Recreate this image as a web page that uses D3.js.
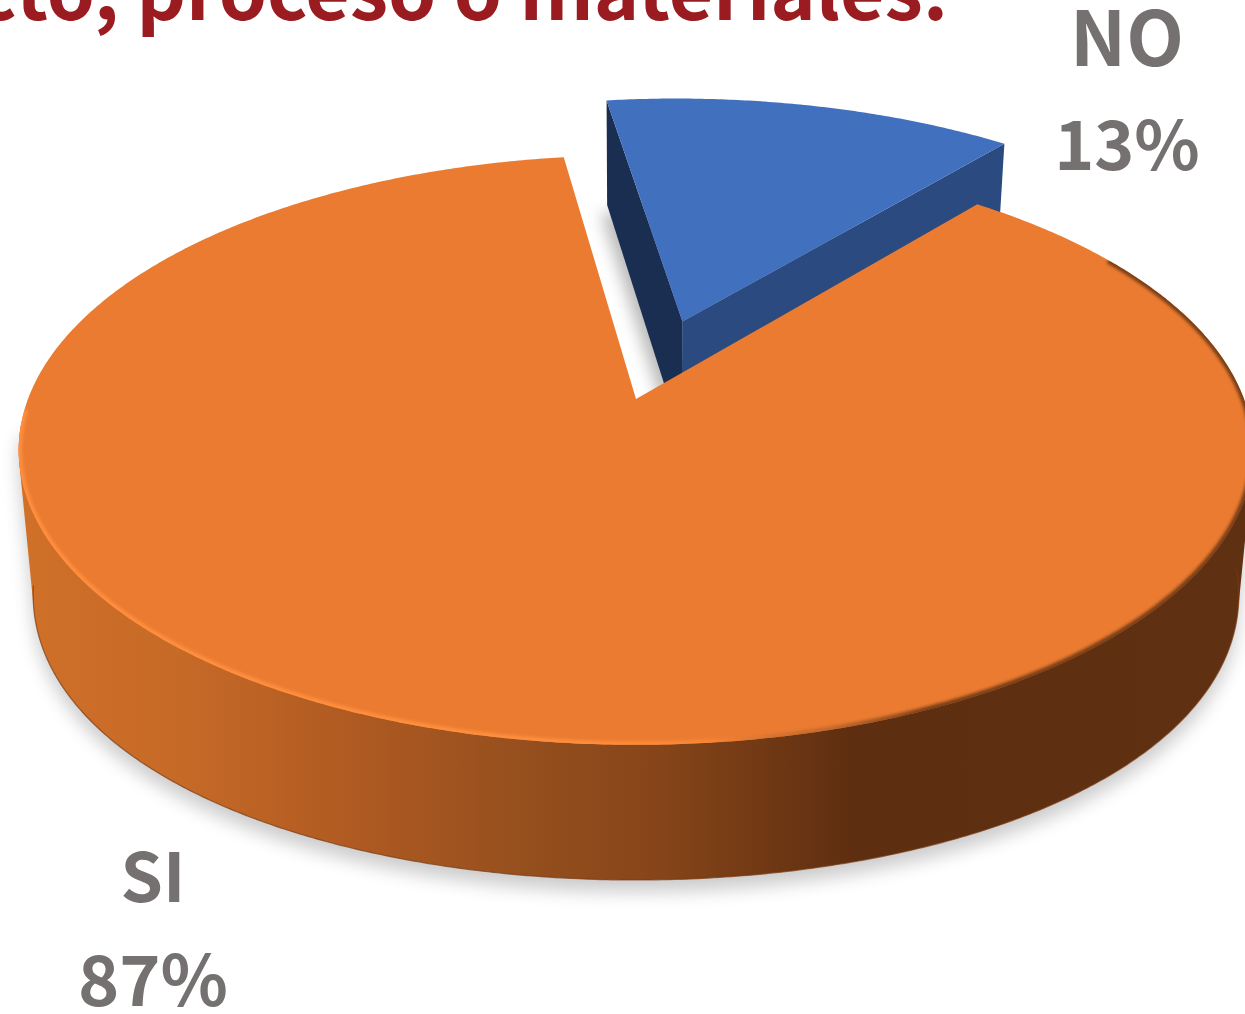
<!DOCTYPE html>
<html><head><meta charset="utf-8">
<style>html,body{margin:0;padding:0;background:#fff;overflow:hidden}svg{display:block}
text{font-family:"Noto Sans CJK SC","Noto Sans CJK JP","Open Sans",sans-serif;font-weight:700}</style>
<script src="https://cdn.jsdelivr.net/npm/d3@7"></script></head>
<body><svg id="c" width="1245" height="1014"></svg>
<script>
const categories = ["NO", "SI"];
const values = [13.2, 86.8];
const valueLabels = ["13%", "87%"];
const titleText = "cto, proceso o materiales:";

const W = 1245, H = 1014;
// Pie plane projection: unit-circle pie (u right, v away from viewer), z=0 top plane, z=1 base plane
const P = {x0: 636, y0: 399, c: 608, b: 286, k: 0.173, m: 0.0233, d: 123, e: 24};
const project = (u, v, z) => {
  const w = 1 + P.k * v + P.m * z;
  return [P.x0 + P.c * u / w, P.y0 + (-P.b * v + (P.d + P.e * u * u) * z) / w];
};
const explode = 0.295;
const deg = Math.PI / 180;
const pie = d3.pie().sort(null).startAngle(-8 * deg).endAngle((360 - 8) * deg);
const arcs = pie(values);
const line = d3.line();

function offset(a) {
  if (a.index !== 0) return [0, 0];
  const mid = (a.startAngle + a.endAngle) / 2;
  return [explode * Math.sin(mid), explode * Math.cos(mid)];
}
function arcPts(a, z, a0 = a.startAngle, a1 = a.endAngle) {
  const [ox, oy] = offset(a);
  const n = Math.ceil(Math.abs(a1 - a0) / 0.008);
  return d3.range(n + 1).map(i => {
    const t = a0 + (a1 - a0) * i / n;
    return project(ox + Math.sin(t), oy + Math.cos(t), z);
  });
}
const apex = (a, z) => { const [ox, oy] = offset(a); return project(ox, oy, z); };
const topFace = (a, z = 0) => line([apex(a, z), ...arcPts(a, z)]) + "Z";
const radialWall = (a, t) => {
  const [ox, oy] = offset(a);
  const e = z => project(ox + Math.sin(t), oy + Math.cos(t), z);
  return line([apex(a, 0), e(0), e(1), apex(a, 1)]) + "Z";
};
// outer wall silhouette: convex hull of the top and base rims
const outerWall = (a, a0, a1) => line(d3.polygonHull([...arcPts(a, 0, a0, a1), ...arcPts(a, 1, a0, a1)])) + "Z";

const svg = d3.select("#c");
const defs = svg.append("defs");
const blur = (id, s) => defs.append("filter").attr("id", id)
  .attr("x", "-20%").attr("y", "-20%").attr("width", "140%").attr("height", "140%")
  .append("feGaussianBlur").attr("stdDeviation", s);
blur("shadow", 9); blur("shadowB", 8); blur("rim", 1.4);

const grad = (id, stops) => {
  const g = defs.append("linearGradient").attr("id", id).attr("gradientUnits", "userSpaceOnUse")
    .attr("x1", 18).attr("x2", 1250).attr("y1", 0).attr("y2", 0);
  stops.forEach(([o, c, op]) => g.append("stop").attr("offset", o).attr("stop-color", c).attr("stop-opacity", op === undefined ? 1 : op));
};
grad("wall", [[0, "#d07029"], [0.13, "#c66a27"], [0.27, "#b05a22"], [0.4, "#97501e"], [0.52, "#864519"], [0.68, "#5e2e10"], [1, "#603013"]]);
grad("rimG", [[0, "#ff8f3c"], [0.45, "#ff8f3c"], [0.56, "#f98636"], [0.66, "#b0602a", 0.7], [0.74, "#5e2e10", 0.8], [1, "#5e2e10", 0.8]]);

const [no, si] = arcs;
defs.append("clipPath").attr("id", "topClip").append("path").attr("d", topFace(si));

// soft ground shadows
svg.append("path").attr("d", outerWall(si, 95 * deg, 265 * deg))
  .attr("fill", "#000").attr("opacity", 0.2).attr("transform", "translate(0,12)").attr("filter", "url(#shadow)");
svg.append("path").attr("d", topFace(no, 1))
  .attr("fill", "#000").attr("opacity", 0.28).attr("transform", "translate(-6,8)").attr("filter", "url(#shadowB)");

// NO slice
svg.append("path").attr("d", radialWall(no, no.startAngle)).attr("fill", "#1a2e52");
svg.append("path").attr("d", radialWall(no, no.endAngle)).attr("fill", "#2a4a80");
svg.append("path").attr("d", topFace(no)).attr("fill", "#4170bf");

// SI slice
svg.append("path").attr("d", outerWall(si, 95 * deg, 265 * deg)).attr("fill", "url(#wall)");
svg.append("path").attr("d", line(arcPts(si, 1, 95 * deg, 262 * deg)))
  .attr("fill", "none").attr("stroke", "#7a3a14").attr("stroke-width", 1.2).attr("opacity", 0.7);
svg.append("path").attr("d", topFace(si)).attr("fill", "#ea7b31");
// rim along the near edge of the top face
svg.append("g").attr("clip-path", "url(#topClip)").append("path")
  .attr("d", line(arcPts(si, 0, 58 * deg, 268 * deg)))
  .attr("fill", "none").attr("stroke", "url(#rimG)").attr("stroke-width", 7)
  .attr("filter", "url(#rim)");

// Texts
const gray = "#767171";
const label = (txt, x, y, size) => svg.append("text").attr("x", x).attr("y", y)
  .attr("text-anchor", "middle").attr("font-size", size).attr("fill", gray).text(txt);
label(categories[0], 1127, 66, 75);
label(valueLabels[0], 1127, 170, 68);
label(categories[1], 153, 902, 68);
label(valueLabels[1], 153, 1006, 70);
svg.append("text").attr("x", 948).attr("y", 20).attr("text-anchor", "end")
  .attr("font-size", 77).attr("fill", "#9b1c20").text(titleText);
</script></body></html>
